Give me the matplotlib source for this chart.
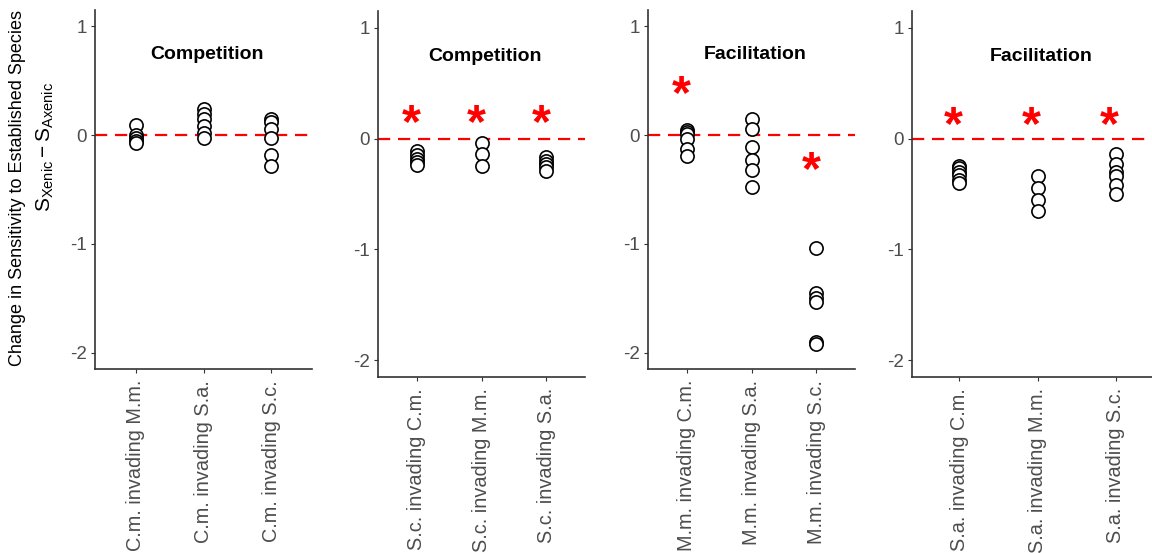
import numpy as np
import matplotlib.pyplot as plt
from matplotlib.transforms import ScaledTranslation

plt.rcParams['font.family'] = ['Liberation Sans', 'DejaVu Sans']
plt.rcParams['mathtext.fontset'] = 'custom'
plt.rcParams['mathtext.rm'] = 'Liberation Sans'
plt.rcParams['mathtext.it'] = 'Liberation Sans:italic'

# panel titles
titles = ['Competition', 'Competition', 'Facilitation', 'Facilitation']

# category labels per panel
cm_labels = ['C.m. invading M.m.', 'C.m. invading S.a.', 'C.m. invading S.c.']
sc_labels = ['S.c. invading C.m.', 'S.c. invading M.m.', 'S.c. invading S.a.']
mm_labels = ['M.m. invading C.m.', 'M.m. invading S.a.', 'M.m. invading S.c.']
sa_labels = ['S.a. invading C.m.', 'S.a. invading M.m.', 'S.a. invading S.c.']

# S_Xenic - S_Axenic replicates
cm_values = [[0.09, 0.0, -0.03, -0.05, -0.07],
             [0.24, 0.19, 0.15, 0.08, 0.02, -0.03],
             [0.15, 0.12, 0.06, -0.03, -0.18, -0.28]]
sc_values = [[-0.11, -0.15, -0.18, -0.21, -0.24],
             [-0.04, -0.14, -0.25],
             [-0.17, -0.20, -0.23, -0.26, -0.29]]
mm_values = [[0.05, 0.03, 0.01, -0.04, -0.13, -0.19],
             [0.15, 0.06, -0.11, -0.23, -0.32, -0.48],
             [-1.04, -1.45, -1.50, -1.53, -1.90, -1.92]]
sa_values = [[-0.25, -0.27, -0.30, -0.33, -0.37, -0.40],
             [-0.34, -0.45, -0.55, -0.65],
             [-0.14, -0.23, -0.30, -0.34, -0.42, -0.50]]

# significance stars (None = no star)
cm_stars = [None, None, None]
sc_stars = [0.21, 0.21, 0.21]
mm_stars = [0.45, None, -0.25]
sa_stars = [0.19, 0.19, 0.19]

panels = [(cm_labels, cm_values, cm_stars),
          (sc_labels, sc_values, sc_stars),
          (mm_labels, mm_values, mm_stars),
          (sa_labels, sa_values, sa_stars)]

# panel boxes in pixels: left, right, top, bottom
boxes = [(95, 312, 10, 369), (378, 585, 11, 377),
         (648, 855, 10, 369), (912, 1163, 11, 377)]

W, H = 1152, 553
fig = plt.figure(figsize=(W / 100, H / 100), dpi=100)

axis_col = '#333333'
tick_col = '#4D4D4D'

for i, (labels, values, stars) in enumerate(panels):
    l, r, t, b = boxes[i]
    ax = fig.add_axes([l / W, 1 - b / H, (r - l) / W, (b - t) / H])
    ax.axhline(0, color='#FF0000', lw=1.6, dashes=(5.5, 3.5), zorder=1)
    for j, vals in enumerate(values):
        ax.plot([j] * len(vals), vals, 'o', ms=9.5, mfc='white', mec='black',
                mew=1.2, zorder=3, clip_on=False)
    # the asterisk sits high in its text box, so pull it down a little
    star_off = ScaledTranslation(0, -6.5 / 72, fig.dpi_scale_trans)
    for j, s in enumerate(stars):
        if s is not None:
            ax.text(j - 0.08, s, '*', color='#FF0000', fontsize=35, fontweight='bold',
                    ha='center', va='center', transform=ax.transData + star_off)
    ax.text(1.05, 0.74, titles[i], ha='center', va='center', fontsize=14,
            fontweight='bold', color='black')
    ax.set_xlim(-0.6, 2.6)
    ax.set_ylim(-2.15, 1.15)
    ax.set_yticks([-2, -1, 0, 1])
    ax.set_yticklabels(['-2', '-1', '0', '1'])
    ax.set_xticks(range(3))
    ax.set_xticklabels(labels, rotation=90, fontsize=14.3)
    for side in ['top', 'right']:
        ax.spines[side].set_visible(False)
    for side in ['left', 'bottom']:
        ax.spines[side].set_color(axis_col)
        ax.spines[side].set_linewidth(1.2)
    ax.tick_params(axis='both', colors=axis_col, labelcolor=tick_col,
                   length=3, width=0.8, pad=3)
    ax.tick_params(axis='y', labelsize=13.5)
    ax.tick_params(axis='x', pad=5)

fig.text(18 / W, 1 - 188 / H, 'Change in Sensitivity to Established Species',
         rotation=90, ha='center', va='center', fontsize=13)
fig.text(45 / W, 1 - 147 / H, r'$\mathregular{S_{Xenic} - S_{Axenic}}$',
         rotation=90, ha='center', va='center', fontsize=15)

fig.savefig('out.png', dpi=100)
